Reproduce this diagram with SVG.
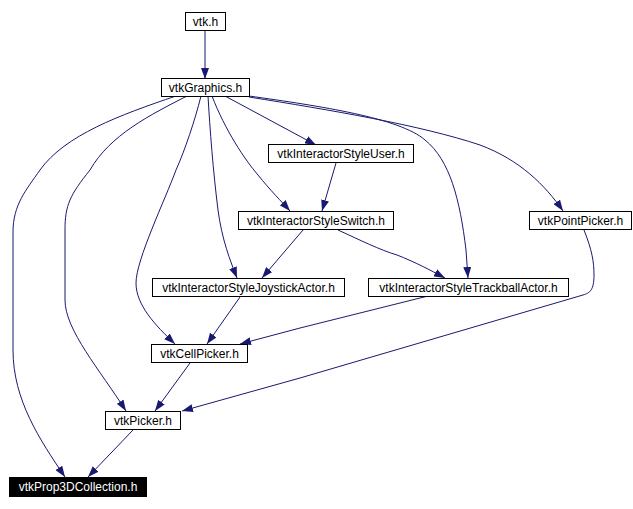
<svg xmlns="http://www.w3.org/2000/svg" width="633" height="509" viewBox="0 0 633 509">
<defs>
<marker id="ah" viewBox="0 0 11 8" refX="11" refY="4" markerWidth="11" markerHeight="8" markerUnits="userSpaceOnUse" orient="auto">
<path d="M0,0 L11,4 L0,8 z" fill="#191970"/>
</marker>
<style>
.n rect{fill:#fff;stroke:#000;stroke-width:1}
.n text{font-family:"Liberation Sans",Arial,sans-serif;font-size:12px;text-anchor:middle;fill:#000}
.n.hl rect{fill:#000}
.n.hl text{fill:#fff}
#edges path{fill:none;stroke:#191970;stroke-width:1;marker-end:url(#ah)}
</style>
</defs>
<rect width="633" height="509" fill="#fff"/>
<g id="edges">
<path d="M205,30 L205,79"/>
<path d="M176,96 C120,115 65,135 40,170 C26,190 13,205 13,232 L13,350 C13,400 40,440 65,477"/>
<path d="M187,96 C150,115 110,135 90,170 C70,195 65,205 65,230 L65,300 C65,330 100,370 126,411"/>
<path d="M201,96 C195,120 185,150 176,170 C165,200 136,260 136,283 C136,305 155,325 175,344"/>
<path d="M208,96 C210,130 213,170 218,210 C222,240 230,260 237,278"/>
<path d="M212,96 C225,130 245,160 258,175 C270,190 282,202 290,211"/>
<path d="M225,96 L316,145"/>
<path d="M249,96 C320,106 400,118 425,140 C450,160 460,200 466,250 L468,278"/>
<path d="M249,97 C330,110 420,125 480,145 C520,160 545,185 563,211"/>
<path d="M336,163 L322,211"/>
<path d="M303,230 L262,278"/>
<path d="M338,230 C360,240 380,250 397,255 C415,262 430,270 445,278"/>
<path d="M240,297 L207,344"/>
<path d="M428,296 L300,328 L240,344"/>
<path d="M584,230 C592,250 594,262 594,275 C594,290 590,293 583,295 L300,378 L182,411"/>
<path d="M190,363 L155,411"/>
<path d="M133,430 L88,477"/>
</g>
<g id="vtk_h" class="n"><rect x="185.5" y="12.5" width="40" height="18"/><text x="205.5" y="26">vtk.h</text></g>
<g id="vtkGraphics_h" class="n"><rect x="161.5" y="78.5" width="88" height="18"/><text x="205.5" y="92">vtkGraphics.h</text></g>
<g id="vtkInteractorStyleUser_h" class="n"><rect x="268.5" y="144.5" width="145" height="18"/><text x="341" y="158">vtkInteractorStyleUser.h</text></g>
<g id="vtkInteractorStyleSwitch_h" class="n"><rect x="238.5" y="211.5" width="155" height="18"/><text x="316" y="225">vtkInteractorStyleSwitch.h</text></g>
<g id="vtkPointPicker_h" class="n"><rect x="529.5" y="211.5" width="102" height="18"/><text x="580.5" y="225">vtkPointPicker.h</text></g>
<g id="vtkInteractorStyleJoystickActor_h" class="n"><rect x="152.5" y="278.5" width="192" height="18"/><text x="248.5" y="292">vtkInteractorStyleJoystickActor.h</text></g>
<g id="vtkInteractorStyleTrackballActor_h" class="n"><rect x="368.5" y="278.5" width="200" height="18"/><text x="468.5" y="292">vtkInteractorStyleTrackballActor.h</text></g>
<g id="vtkCellPicker_h" class="n"><rect x="151.5" y="344.5" width="96" height="18"/><text x="199.5" y="358">vtkCellPicker.h</text></g>
<g id="vtkPicker_h" class="n"><rect x="105.5" y="411.5" width="75" height="18"/><text x="143" y="425">vtkPicker.h</text></g>
<g id="vtkProp3DCollection_h" class="n hl"><rect x="9.5" y="477.5" width="137" height="19"/><text x="78" y="491">vtkProp3DCollection.h</text></g>
</svg>
